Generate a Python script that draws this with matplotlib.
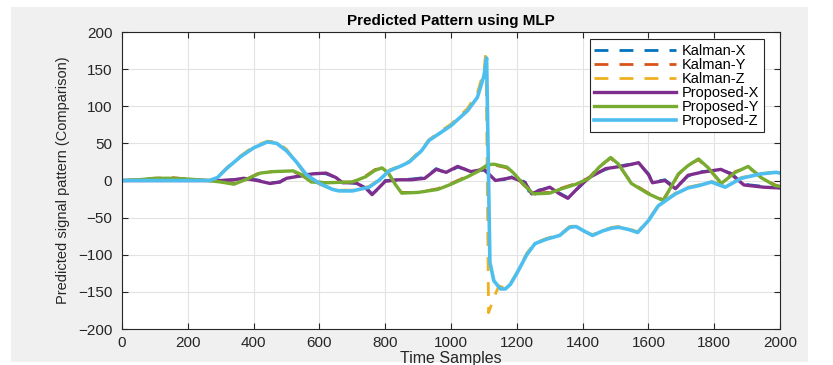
import matplotlib.pyplot as plt
from matplotlib.patches import Rectangle

# samples / values for each predicted signal
t_px = [0, 300, 340, 370, 410, 450, 480, 500, 540, 580, 620, 650, 670, 710, 740, 760, 780, 800, 840,
        880, 920, 955, 985, 1020, 1060, 1100, 1135, 1160, 1185, 1225, 1245, 1265, 1300, 1330, 1355,
        1390, 1420, 1470, 1530, 1570, 1600, 1612, 1650, 1682, 1720, 1760, 1820, 1850, 1890, 1950, 2000]
prop_x = [0, 0, 1, 3, 0, -4, -2, 3, 6, 9, 10, 4, -3, -3, -10, -19, -10, -1, 1,
          1, 3, 15, 11, 19, 12, 15, 0, 2, 4, -3, -18, -14, -9, -18, -24,
          -8, 4, 16, 20, 24, 8, -3, 0, -11, 7, 11, 15, 9, -6, -9, -10]
kal_x = [0, 0, 1, 3, 1, -3, -2, 4, 6, 10, 9, 4, -2, -4, -9, -18, -11, 0, 1,
         2, 4, 16, 10, 18, 13, 14, 1, 1, 5, -2, -24, -13, -10, -17, -23,
         -9, 5, 15, 21, 23, 9, -2, 1, -10, 6, 12, 14, 10, -5, -8, -10]

t_py = [0, 50, 100, 150, 200, 260, 300, 340, 380, 420, 460, 520, 545, 575, 620, 700, 740, 770, 790,
        810, 830, 850, 900, 960, 1000, 1050, 1085, 1110, 1130, 1170, 1190, 1220, 1250, 1300, 1330,
        1380, 1420, 1450, 1485, 1509, 1548, 1600, 1645, 1691, 1720, 1752, 1782, 1821, 1864, 1903,
        1942, 1985, 2000]
prop_y = [0, 1, 3, 3, 2, 0, -2, -5, 2, 10, 12, 13, 8, -2, -3, -2, 5, 14, 17,
          10, -5, -17, -16, -12, -5, 5, 13, 21, 22, 18, 10, -5, -18, -17, -12,
          -5, 3, 18, 31, 22, -4, -18, -27, 9, 20, 29, 17, -4, 11, 19,
          4, -7, -8]
kal_y = [0, 1, 3, 4, 2, 0, -2, -4, 2, 11, 12, 12, 7, -1, -3, -2, 6, 15, 16,
         9, -4, -16, -16, -11, -4, 6, 14, 20, 21, 17, 9, -6, -17, -16, -11,
         -4, 4, 19, 30, 21, -3, -17, -26, 8, 21, 28, 16, -3, 12, 18,
         5, -6, -8]

t_pz = [0, 100, 200, 265, 290, 320, 360, 400, 442, 470, 500, 530, 560, 600, 640, 660, 700, 751,
        780, 812, 850, 873, 910, 933, 970, 1000, 1050, 1080, 1100, 1108, 1118, 1130, 1150, 1165,
        1180, 1200, 1230, 1255, 1290, 1330, 1360, 1380, 1400, 1430, 1460, 1490, 1510, 1540, 1567,
        1600, 1630, 1682, 1720, 1752, 1791, 1833, 1882, 1942, 1988, 2000]
prop_z = [0, 0, 0, 0, 4, 17, 32, 44, 52, 50, 40, 25, 8, -4, -12, -14, -14, -9,
          0, 13, 20, 25, 40, 54, 65, 74, 94, 112, 141, 165, -110, -135, -146, -146,
          -140, -125, -100, -85, -79, -74, -63, -62, -67, -74, -68, -64, -63, -66, -70,
          -54, -34, -18, -10, -7, -2, -9, 3, 9, 11, 10]

t_kz = [0, 100, 200, 265, 290, 320, 360, 400, 442, 470, 500, 530, 560, 600, 640, 660, 700, 751,
        780, 812, 850, 873, 910, 933, 970, 1000, 1050, 1080, 1100, 1106, 1114, 1130, 1145, 1165,
        1180, 1200, 1230, 1255, 1290, 1330, 1360, 1380, 1400, 1430, 1460, 1490, 1510, 1540, 1567,
        1600, 1630, 1682, 1720, 1752, 1791, 1833, 1882, 1942, 1988, 2000]
kal_z = [0, 0, 1, 0, 5, 18, 33, 46, 53, 52, 42, 24, 6, -5, -12, -13, -13, -8,
         1, 14, 21, 26, 42, 55, 67, 76, 97, 118, 148, 175, -178, -158, -142, -145,
         -139, -124, -98, -84, -78, -73, -62, -61, -68, -73, -67, -63, -62, -65, -69,
         -53, -33, -17, -9, -6, -1, -8, 4, 9, 12, 10]

labels = ['Kalman-X', 'Kalman-Y', 'Kalman-Z', 'Proposed-X', 'Proposed-Y', 'Proposed-Z']
colors = ['#0072BD', '#D95319', '#EDB120', '#7E2F8E', '#77AC30', '#4DBEEE']

plt.rcParams['font.family'] = ['Liberation Sans', 'DejaVu Sans']

fig = plt.figure(figsize=(8.33, 3.65), dpi=100)
fig.patches.append(Rectangle((0.013, 0.008), 0.957, 0.973, transform=fig.transFigure,
                             facecolor='#f0f0f0', edgecolor='none', zorder=-10))
ax = fig.add_axes([0.1465, 0.0986, 0.790, 0.8137])

dash = (5, 4)
ax.plot(t_px, kal_x, color=colors[0], lw=2, dashes=dash, label=labels[0])
ax.plot(t_py, kal_y, color=colors[1], lw=2, dashes=dash, label=labels[1])
ax.plot(t_kz, kal_z, color=colors[2], lw=2, dashes=dash, label=labels[2])
ax.plot(t_px, prop_x, color=colors[3], lw=2.4, label=labels[3])
ax.plot(t_py, prop_y, color=colors[4], lw=2.4, label=labels[4])
ax.plot(t_pz, prop_z, color=colors[5], lw=2.6, label=labels[5])

ax.set_xlim(0, 2000)
ax.set_ylim(-200, 200)
ax.set_xticks(range(0, 2001, 200))
ax.set_yticks(range(-200, 201, 50))
ax.grid(True, color='#e3e3e3', lw=0.8)
ax.set_axisbelow(True)
ax.tick_params(direction='in', top=True, right=True, length=4, width=0.8,
               colors='#262626', labelsize=11)
ax.tick_params(axis='y', pad=7)
ax.tick_params(axis='x', pad=5)
for s in ax.spines.values():
    s.set_color('#262626')
    s.set_linewidth(0.8)

ax.set_title('Predicted Pattern using MLP', fontsize=11, fontweight='bold', pad=5, color='#000000')
ax.set_xlabel('Time Samples', fontsize=11.5, labelpad=1, color='#262626')
ax.set_ylabel('Predicted signal pattern (Comparison)',
              family=['Liberation Sans Narrow', 'Liberation Sans'], fontsize=10.5,
              labelpad=6, color='#262626')

leg = ax.legend(loc='upper right', bbox_to_anchor=(0.975, 0.975), borderaxespad=0,
                fontsize=10.5, handlelength=5.6, handletextpad=0.4, labelspacing=0.0,
                borderpad=0.3, fancybox=False, framealpha=1, edgecolor='#262626')
leg.get_frame().set_linewidth(0.8)

fig.savefig('out.png', dpi=100)
